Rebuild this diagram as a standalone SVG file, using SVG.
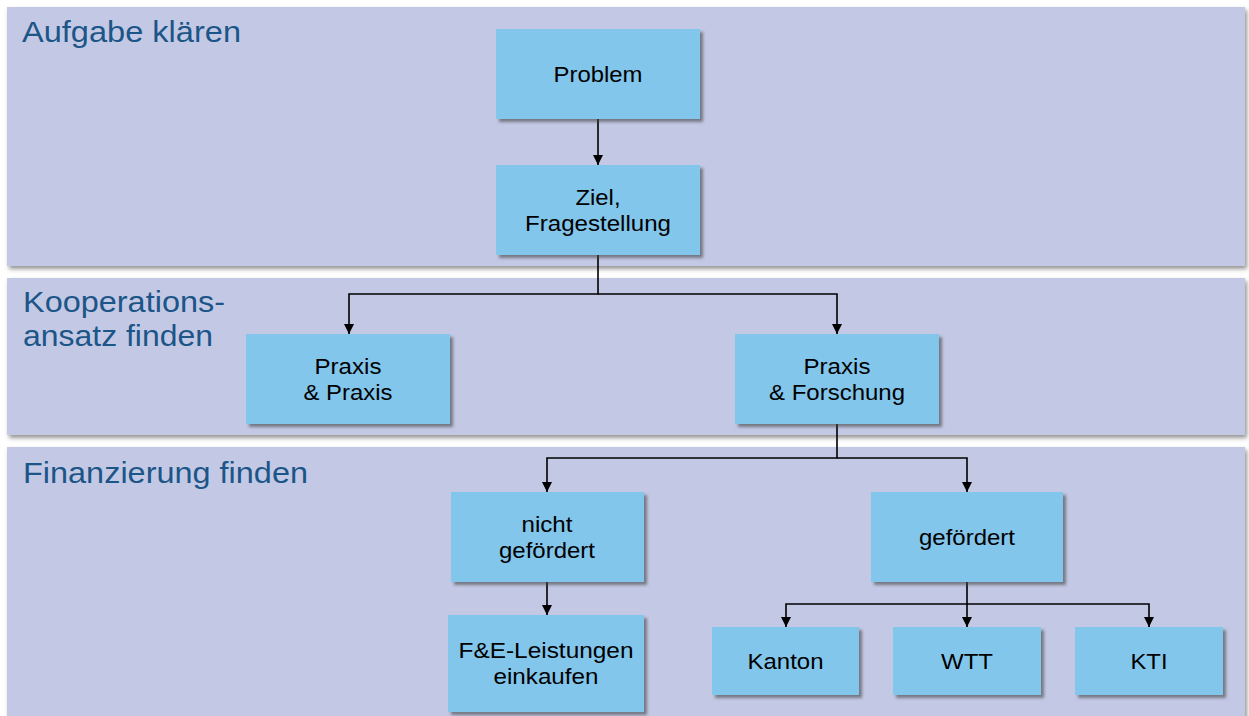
<svg xmlns="http://www.w3.org/2000/svg" width="1249" height="716" viewBox="0 0 1249 716">
<defs>
<filter id="sh" x="-10%" y="-10%" width="125%" height="130%">
<feDropShadow dx="3" dy="3" stdDeviation="1.5" flood-color="#404040" flood-opacity="0.6"/>
</filter>
<filter id="bsh" x="-5%" y="-5%" width="110%" height="115%">
<feDropShadow dx="2" dy="3" stdDeviation="2" flood-color="#404040" flood-opacity="0.55"/>
</filter>
<marker id="ah" viewBox="0 0 10 10" refX="10" refY="5" markerWidth="10" markerHeight="10" markerUnits="userSpaceOnUse" orient="auto">
<path d="M0,0 L10,5 L0,10 z" fill="#000"/>
</marker>
<style>
.band{fill:#C3C9E5;filter:url(#bsh)}
.title{font-family:"Liberation Sans",Arial,sans-serif;font-size:30px;fill:#1C5587}
.box{fill:#82C6EC;filter:url(#sh)}
.t{font-family:"Liberation Sans",Arial,sans-serif;font-size:22px;fill:#000;text-anchor:middle}
.c{fill:none;stroke:#000;stroke-width:1.6}
</style>
</defs>
<rect width="1249" height="716" fill="#fff"/>
<g id="bands">
<rect class="band" x="7" y="7" width="1238" height="259"/>
<rect class="band" x="7" y="278" width="1238" height="157"/>
<rect class="band" x="7" y="447" width="1238" height="275"/>
<text class="title" x="22" y="42" textLength="219" lengthAdjust="spacingAndGlyphs">Aufgabe klären</text>
<text class="title" x="23" y="312" textLength="202" lengthAdjust="spacingAndGlyphs">Kooperations-</text>
<text class="title" x="23" y="346" textLength="190" lengthAdjust="spacingAndGlyphs">ansatz finden</text>
<text class="title" x="23" y="483" textLength="285" lengthAdjust="spacingAndGlyphs">Finanzierung finden</text>
</g>
<g id="connectors">
<path class="c" d="M598,119 V165" marker-end="url(#ah)"/>
<path class="c" d="M598,255 V294 H349 V334" marker-end="url(#ah)"/>
<path class="c" d="M598,294 H837 V334" marker-end="url(#ah)"/>
<path class="c" d="M837,424 V458 H547 V492" marker-end="url(#ah)"/>
<path class="c" d="M837,458 H967 V492" marker-end="url(#ah)"/>
<path class="c" d="M547,582 V615" marker-end="url(#ah)"/>
<path class="c" d="M967,582 V604 H786 V627" marker-end="url(#ah)"/>
<path class="c" d="M967,604 V627" marker-end="url(#ah)"/>
<path class="c" d="M967,604 H1149 V627" marker-end="url(#ah)"/>
</g>
<g id="problem">
<rect class="box" x="496" y="29" width="204" height="90"/>
<text class="t" x="598" y="82" textLength="89" lengthAdjust="spacingAndGlyphs">Problem</text>
</g>
<g id="ziel">
<rect class="box" x="496" y="165" width="204" height="90"/>
<text class="t" x="598" y="205" textLength="45" lengthAdjust="spacingAndGlyphs">Ziel,</text>
<text class="t" x="598" y="231" textLength="146" lengthAdjust="spacingAndGlyphs">Fragestellung</text>
</g>
<g id="praxis-praxis">
<rect class="box" x="246" y="334" width="204" height="90"/>
<text class="t" x="348" y="374" textLength="67" lengthAdjust="spacingAndGlyphs">Praxis</text>
<text class="t" x="348" y="400" textLength="89" lengthAdjust="spacingAndGlyphs">&amp; Praxis</text>
</g>
<g id="praxis-forschung">
<rect class="box" x="735" y="334" width="204" height="90"/>
<text class="t" x="837" y="374" textLength="67" lengthAdjust="spacingAndGlyphs">Praxis</text>
<text class="t" x="837" y="400" textLength="136" lengthAdjust="spacingAndGlyphs">&amp; Forschung</text>
</g>
<g id="nicht-gefoerdert">
<rect class="box" x="451" y="492" width="193" height="90"/>
<text class="t" x="547" y="532" textLength="51" lengthAdjust="spacingAndGlyphs">nicht</text>
<text class="t" x="547" y="558" textLength="96" lengthAdjust="spacingAndGlyphs">gefördert</text>
</g>
<g id="gefoerdert">
<rect class="box" x="871" y="492" width="192" height="90"/>
<text class="t" x="967" y="545" textLength="96" lengthAdjust="spacingAndGlyphs">gefördert</text>
</g>
<g id="fe-leistungen">
<rect class="box" x="448" y="615" width="196" height="97"/>
<text class="t" x="546" y="658" textLength="175" lengthAdjust="spacingAndGlyphs">F&amp;E-Leistungen</text>
<text class="t" x="546" y="684" textLength="105" lengthAdjust="spacingAndGlyphs">einkaufen</text>
</g>
<g id="kanton">
<rect class="box" x="712" y="627" width="147" height="68"/>
<text class="t" x="785.5" y="669" textLength="76" lengthAdjust="spacingAndGlyphs">Kanton</text>
</g>
<g id="wtt">
<rect class="box" x="893" y="627" width="148" height="68"/>
<text class="t" x="967" y="669" textLength="52" lengthAdjust="spacingAndGlyphs">WTT</text>
</g>
<g id="kti">
<rect class="box" x="1075" y="627" width="148" height="68"/>
<text class="t" x="1149" y="669" textLength="37" lengthAdjust="spacingAndGlyphs">KTI</text>
</g>
</svg>
